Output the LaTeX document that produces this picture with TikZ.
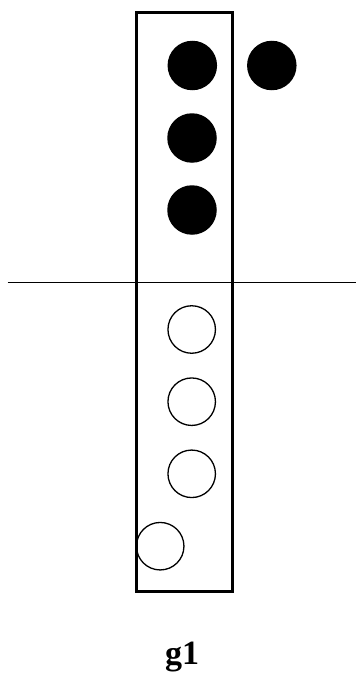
\documentclass[tikz,border=0pt]{standalone}
\usepackage{fontspec}
\setmainfont{Liberation Serif}
\begin{document}
\begin{tikzpicture}[x=1pt,y=-1pt,
  full/.style={circle,fill=black,inner sep=0pt,minimum size=49.5pt},
  empty/.style={circle,draw=black,line width=1.3pt,inner sep=0pt,minimum size=47.5pt}]
\useasboundingbox (0,0) rectangle (356,677);
\draw[line width=3pt] (136,12.5) rectangle (232,591.5);
\draw[line width=1.3pt] (7.5,282.7) -- (356,282.7);
\node[full] (f1) at (192.3,65.5) {};
\node[full] (f2) at (271.8,65.5) {};
\node[full] (f3) at (192,138) {};
\node[full] (f4) at (192,210) {};
\node[empty] (e1) at (191.7,329.5) {};
\node[empty] (e2) at (191.7,401.7) {};
\node[empty] (e3) at (191.7,473.8) {};
\node[empty] (e4) at (160.2,546.2) {};
\node[font=\fontsize{34}{40}\selectfont\bfseries,anchor=base,inner sep=0pt] (lbl) at (182.2,664.5) {g1};
\end{tikzpicture}
\end{document}
